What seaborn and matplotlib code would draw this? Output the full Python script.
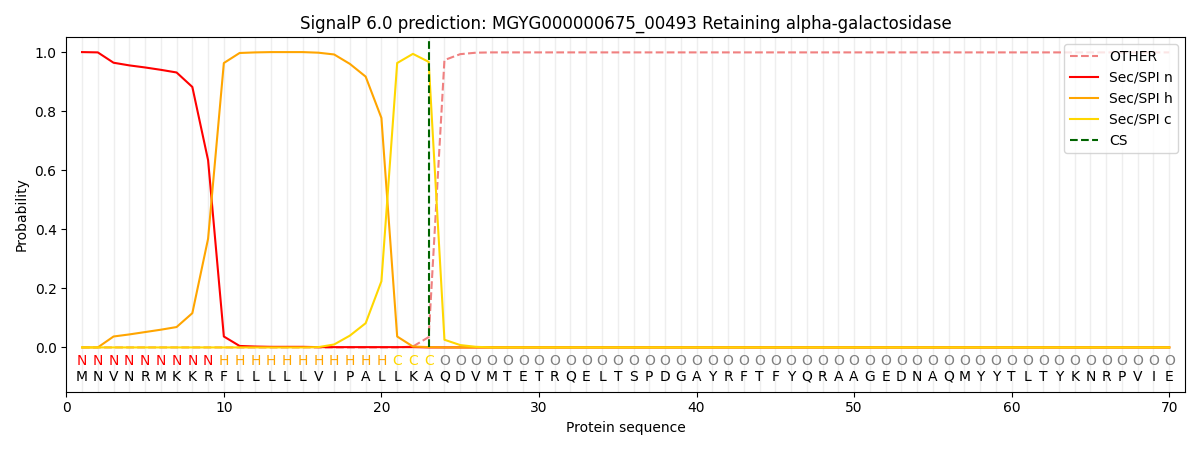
import numpy as np
import pandas as pd
import seaborn as sns
import matplotlib
matplotlib.use("Agg")
import matplotlib.pyplot as plt

title = "SignalP 6.0 prediction: MGYG000000675_00493 Retaining alpha-galactosidase"
sequence = list("MNVNRMKKRFLLLLLVIPALLKAQDVMTETRQELTSPDGAYRFTFYQRAAGEDNAQMYYTLTYKNRPVIE")
regions = list("NNNNNNNNN" + "HHHHHHHHHHH" + "CCC" + "O" * 47)
cs_pos = 23

sp_n = [1.0, 0.999, 0.964, 0.955, 0.948, 0.94, 0.931, 0.882, 0.634, 0.037,
        0.005, 0.003, 0.002, 0.002, 0.002, 0.001, 0.001, 0.001, 0.001, 0.001,
        0.001, 0.001, 0.0] + [0.0] * 47
sp_h = [0.0, 0.0, 0.037, 0.044, 0.052, 0.06, 0.069, 0.116, 0.368, 0.963,
        0.997, 0.999, 1.0, 1.0, 1.0, 0.998, 0.992, 0.96, 0.917, 0.777,
        0.037, 0.003, 0.001] + [0.0] * 47
sp_c = [0.0] * 15 + [0.001, 0.01, 0.04, 0.082, 0.224, 0.963, 0.994, 0.967,
        0.026, 0.008, 0.002] + [0.0] * 44
other = [0.0] * 21 + [0.003, 0.035, 0.973, 0.993, 0.998] + [0.999] * 44

pos = np.arange(1, len(sequence) + 1)
df = pd.DataFrame({"pos": pos, "OTHER": other, "Sec/SPI n": sp_n,
                   "Sec/SPI h": sp_h, "Sec/SPI c": sp_c})

region_colors = {"N": "red", "H": "orange", "C": "gold", "O": "grey"}

fig, ax = plt.subplots(figsize=(12, 4.5), dpi=100)

for p in pos:
    ax.axvline(p, color="#eeeeee", linewidth=1, zorder=0)

sns.lineplot(data=df, x="pos", y="OTHER", color="lightcoral", linestyle="--", label="OTHER", ax=ax)
sns.lineplot(data=df, x="pos", y="Sec/SPI n", color="red", label="Sec/SPI n", ax=ax)
sns.lineplot(data=df, x="pos", y="Sec/SPI h", color="orange", label="Sec/SPI h", ax=ax)
sns.lineplot(data=df, x="pos", y="Sec/SPI c", color="gold", label="Sec/SPI c", ax=ax)

# cleavage site line only over the probability range
ax.axvline(cs_pos, ymin=0.125, ymax=1.0, color="darkgreen", linestyle="--", label="CS")

for p, r, aa in zip(pos, regions, sequence):
    ax.text(p, -0.047, r, color=region_colors[r], ha="center", va="center", fontsize=10)
    ax.text(p, -0.1, aa, color="black", ha="center", va="center", fontsize=10)

ax.set_xlim(0, 71)
ax.set_ylim(-0.15, 1.05)
ax.set_xlabel("Protein sequence")
ax.set_ylabel("Probability")
ax.set_title(title)
ax.legend(loc="upper right")

plt.tight_layout()
plt.savefig("out.png")
